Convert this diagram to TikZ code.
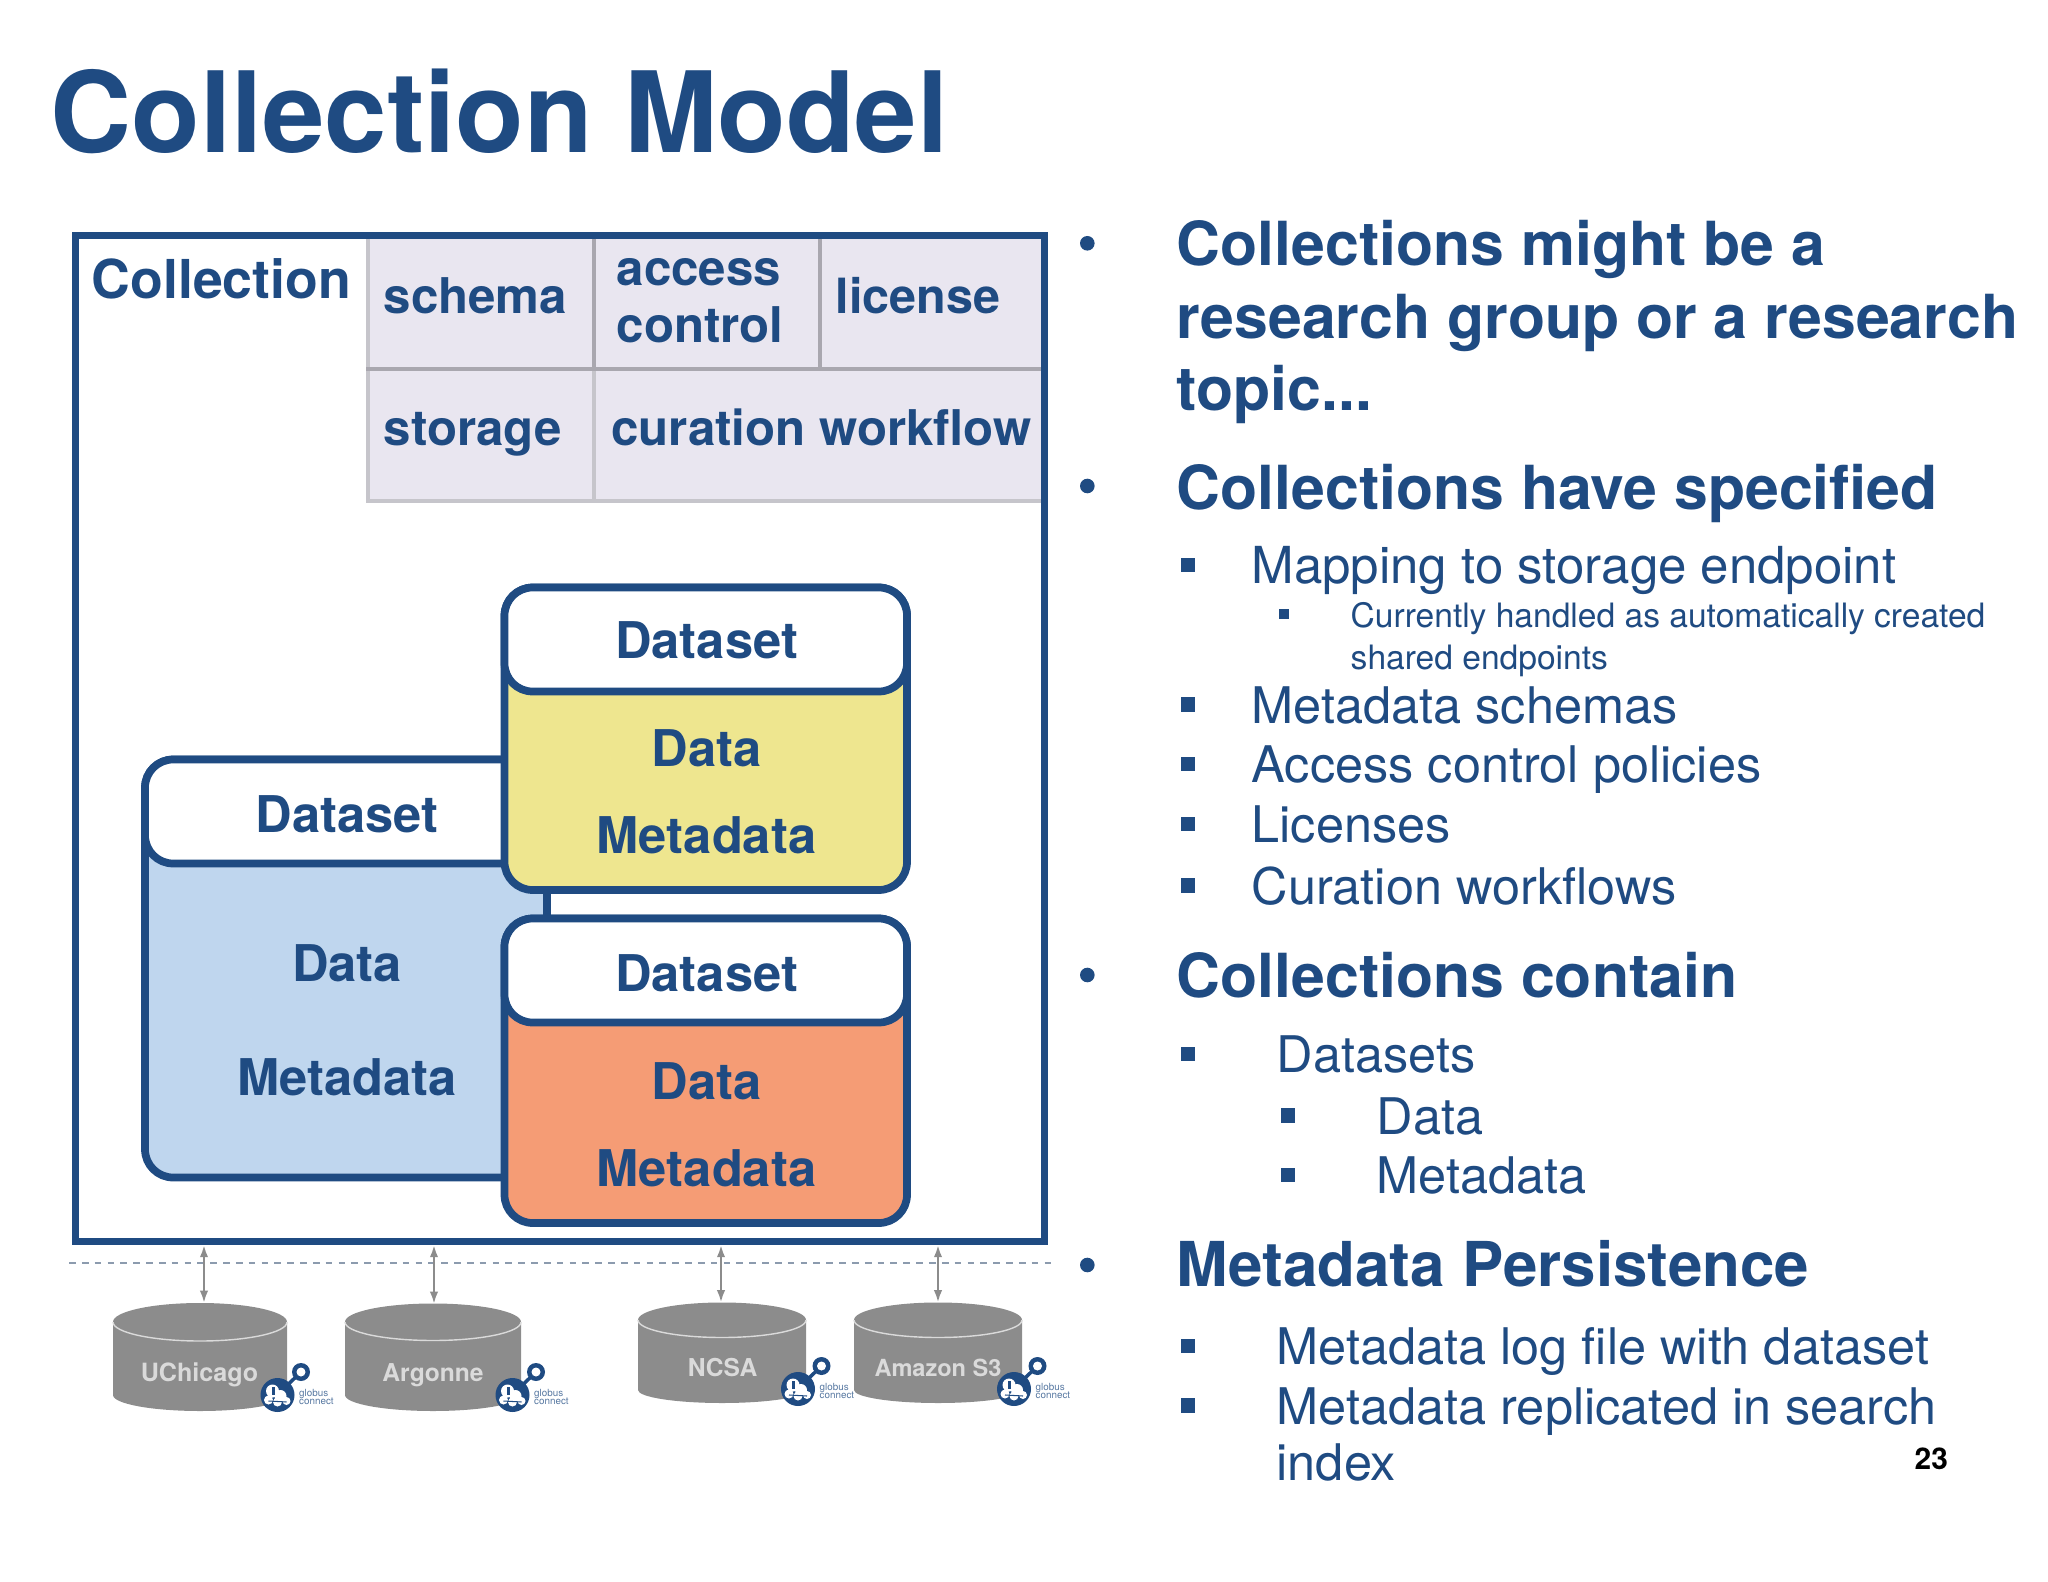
\documentclass[tikz,border=0pt]{standalone}
\usepackage{fontspec}
\setmainfont{TeX Gyre Heros}
\usetikzlibrary{arrows.meta}
\definecolor{navy}{HTML}{1F4B82}
\definecolor{cellfill}{HTML}{E9E6F0}
\definecolor{cellline}{HTML}{C6C5CB}
\definecolor{cellmid}{HTML}{A9A7AF}
\definecolor{yellowfill}{HTML}{EEE68F}
\definecolor{bluefill}{HTML}{BFD6EE}
\definecolor{orangefill}{HTML}{F59C75}
\definecolor{diskgray}{HTML}{8C8C8C}
\definecolor{diskline}{HTML}{DADADA}
\definecolor{dashgray}{HTML}{8C9BAE}
\newcommand{\pxfont}[1]{\fontsize{#1}{#1}\selectfont}
\tikzset{
  x=0.01cm, y=-0.01cm,
  collbox/.style={draw=navy, line width=2.05pt, minimum width=9.69cm, minimum height=10.05cm, inner sep=0pt},
  boxline/.style={draw=navy, line width=2.2pt, rounded corners=8pt},
  label/.style={inner sep=0pt, anchor=base, text=navy, font=\bfseries\pxfont{14.4}},
  cell/.style={inner sep=0pt, anchor=base west, text=navy, font=\bfseries\pxfont{14}},
  disklabel/.style={inner sep=0pt, anchor=base, text=diskline, font=\bfseries\pxfont{7}},
  link/.style={draw=diskgray, line width=0.65pt, {Latex[length=3.5pt,width=2.4pt]}-{Latex[length=3.5pt,width=2.4pt]}},
  tiny/.style={inner sep=0pt, anchor=base west, text=navy!75!white, font=\pxfont{2.8}},
  head/.style={inner sep=0pt, anchor=base west, text=navy, font=\bfseries\pxfont{17.28}},
  item/.style={inner sep=0pt, anchor=base west, text=navy, font=\pxfont{14.35}},
  subitem/.style={inner sep=0pt, anchor=base west, text=navy, font=\pxfont{9.55}},
  dotb/.style={circle, fill=navy, inner sep=0pt, minimum size=14.6*0.01cm},
  sqb/.style={rectangle, fill=navy, inner sep=0pt, minimum size=14.4*0.01cm},
  sqc/.style={rectangle, fill=navy, inner sep=0pt, minimum size=10*0.01cm},
}
% disk: centre x, radius x, centre y of top, y of bottom rim, radius y top, radius y bottom
\newcommand{\diskshape}[6]{
  \begin{scope}[shift={(#1,#3)}]
    \fill[diskgray] (-#2,0) arc[start angle=180, end angle=0, x radius=#2*0.01cm, y radius=#5*0.01cm]
      -- (#2,#4-#3) arc[start angle=0, end angle=-180, x radius=#2*0.01cm, y radius=#6*0.01cm] -- cycle;
    \draw[diskline, line width=0.4pt] (-#2,0) arc[start angle=180, end angle=360, x radius=#2*0.01cm, y radius=#5*0.01cm];
  \end{scope}
}
% badge: centre x, centre y
\newcommand{\globusbadge}[2]{
  \begin{scope}[shift={(#1,#2)}]
    \draw[navy, line width=1pt] (10,-10) -- (23.5,-23);
    \fill[navy] (0,0) circle[radius=17*0.01cm];
    \fill[navy] (23.5,-23) circle[radius=9*0.01cm];
    \fill[white] (23.5,-23) circle[radius=4.5*0.01cm];
    \fill[white] (-5,-4) circle[radius=6.5*0.01cm] (3,1) circle[radius=6*0.01cm]
      (-9,5) circle[radius=4.5*0.01cm] (9,6) circle[radius=4*0.01cm] (0,7) circle[radius=4.5*0.01cm];
    \fill[navy] (-6,-8) rectangle (-3,0);
    \draw[navy, line width=0.3pt] (-9,6) -- (9,7);
    \node[tiny] at (21,1) {globus};
    \node[tiny] at (21,9) {connect};
  \end{scope}
}
\begin{document}
\begin{tikzpicture}
  \useasboundingbox (0,0) rectangle (2048,1582);
  \node[inner sep=0pt, anchor=base west, text=navy, font=\bfseries\pxfont{31.9}] (title) at (50,152.5) {Collection Model};

  % collection
  \node[collbox] (collection) at (560,738.5) {};
  \node[cell, font=\bfseries\pxfont{15.25}] (coll) at (91,298) {Collection};
  \fill[cellfill] (368,239) rectangle (1041,501);
  \draw[cellline, line width=1.1pt] (368,239) -- (368,501) -- (1041,501);
  \draw[cellline, line width=1.1pt] (594,369) -- (594,503);
  \draw[cellmid, line width=1.1pt] (594,239) -- (594,369);
  \draw[cellmid, line width=1.1pt] (820,239) -- (820,369);
  \draw[cellmid, line width=1.4pt] (366,369) -- (1041,369);
  \node[cell] (schema) at (383,313.5) {schema};
  \node[cell] (access) at (616,285) {access};
  \node[cell] (control) at (616,343) {control};
  \node[cell, font=\bfseries\pxfont{13.8}] (license) at (835,313.5) {license};
  \node[cell] (storage) at (383,445.5) {storage};
  \node[cell] (curation) at (610.5,445.5) {curation workflow};

  % datasets
  \draw[boxline, fill=bluefill] (145,759.5) rectangle (547,1177.5);
  \draw[boxline, fill=white] (145,759.5) rectangle (547,863.5);
  \node[label] (d1) at (347,832) {Dataset};
  \node[label] (d1a) at (347,981.5) {Data};
  \node[label] (d1b) at (347,1095) {Metadata};

  \draw[boxline, fill=yellowfill] (504.5,587.5) rectangle (907,890);
  \draw[boxline, fill=white] (504.5,587.5) rectangle (907,691.5);
  \node[label] (d2) at (706.5,658.5) {Dataset};
  \node[label] (d2a) at (706.5,766) {Data};
  \node[label] (d2b) at (706.5,853.5) {Metadata};

  \draw[boxline, fill=orangefill] (504.5,918.5) rectangle (907,1223);
  \draw[boxline, fill=white] (504.5,918.5) rectangle (907,1022.5);
  \node[label] (d3) at (706.5,991.5) {Dataset};
  \node[label] (d3a) at (706.5,1099) {Data};
  \node[label] (d3b) at (706.5,1186.5) {Metadata};

  % storage
  \coordinate (dashl) at (69,1263);
  \coordinate (dashr) at (1053,1263);
  \draw[dashgray, line width=0.45pt, dash pattern=on 1.9pt off 1.75pt] (dashl) -- (dashr);

  \diskshape{200}{87}{1322}{1395}{19}{16}
  \diskshape{433}{88}{1322}{1395}{18.5}{16}
  \diskshape{722}{84}{1320}{1390}{17.5}{13}
  \diskshape{938}{84}{1320}{1390}{17.5}{13}
  \node[disklabel, font=\bfseries\pxfont{7.15}] (uchicago) at (199.5,1381) {UChicago};
  \node[disklabel] (argonne) at (433,1381) {Argonne};
  \node[disklabel] (ncsa) at (722.5,1376) {NCSA};
  \node[disklabel, font=\bfseries\pxfont{6.7}] (amazon) at (938,1376) {Amazon S3};
  \globusbadge{277.5}{1395}
  \globusbadge{512.5}{1395}
  \globusbadge{798}{1389}
  \globusbadge{1014}{1389}

  \coordinate (top1) at (204,1303);
  \coordinate (top2) at (434,1304);
  \coordinate (top3) at (721,1302.5);
  \coordinate (top4) at (938,1302.5);
  \foreach \i in {1,2,3,4} {
    \draw[link] (collection.south -| top\i) -- (top\i);
  }

  % right column
  \foreach \y [count=\i] in {243.3,486,975,1265} {
    \node[dotb] (dot\i) at (1087.3,\y) {};
  }
  \foreach \y [count=\i] in {565,704.5,764,823.7,885.5,1054,1345.7,1405.3} {
    \node[sqb] (sq\i) at (1188,\y) {};
  }
  \foreach \y [count=\i] in {1115.5,1174.7} {
    \node[sqb] (sr\i) at (1287.7,\y) {};
  }
  \node[sqc] (sc1) at (1284,614.3) {};

  \node[head] (h1a) at (1176,265.6) {Collections might be a};
  \node[head] (h1b) at (1176,338.3) {research group or a research};
  \node[head] (h1c) at (1176,410.6) {topic...};
  \node[head] (h2) at (1176,509) {Collections have specified};
  \node[item, font=\pxfont{14.5}] (i1) at (1251,583.6) {Mapping to storage endpoint};
  \node[subitem] (s1a) at (1350,627) {Currently handled as automatically created};
  \node[subitem] (s1b) at (1350,669) {shared endpoints};
  \node[item] (i2) at (1251,723) {Metadata schemas};
  \node[item] (i3) at (1251,782.3) {Access control policies};
  \node[item] (i4) at (1251,842) {Licenses};
  \node[item] (i5) at (1251,904) {Curation workflows};
  \node[head] (h3) at (1176,997.3) {Collections contain};
  \node[item] (i6) at (1276,1072.3) {Datasets};
  \node[item] (i7) at (1376,1134) {Data};
  \node[item] (i8) at (1376,1193.6) {Metadata};
  \node[head, font=\bfseries\pxfont{17.6}] (h4) at (1176,1286.3) {Metadata Persistence};
  \node[item] (i9) at (1276,1364.6) {Metadata log file with dataset};
  \node[item] (i10) at (1276,1424) {Metadata replicated in search};
  \node[item] (i11) at (1276,1480.3) {index};
  \node[inner sep=0pt, anchor=base west, font=\bfseries\pxfont{8.5}] (page) at (1914,1469) {23};
\end{tikzpicture}
\end{document}
